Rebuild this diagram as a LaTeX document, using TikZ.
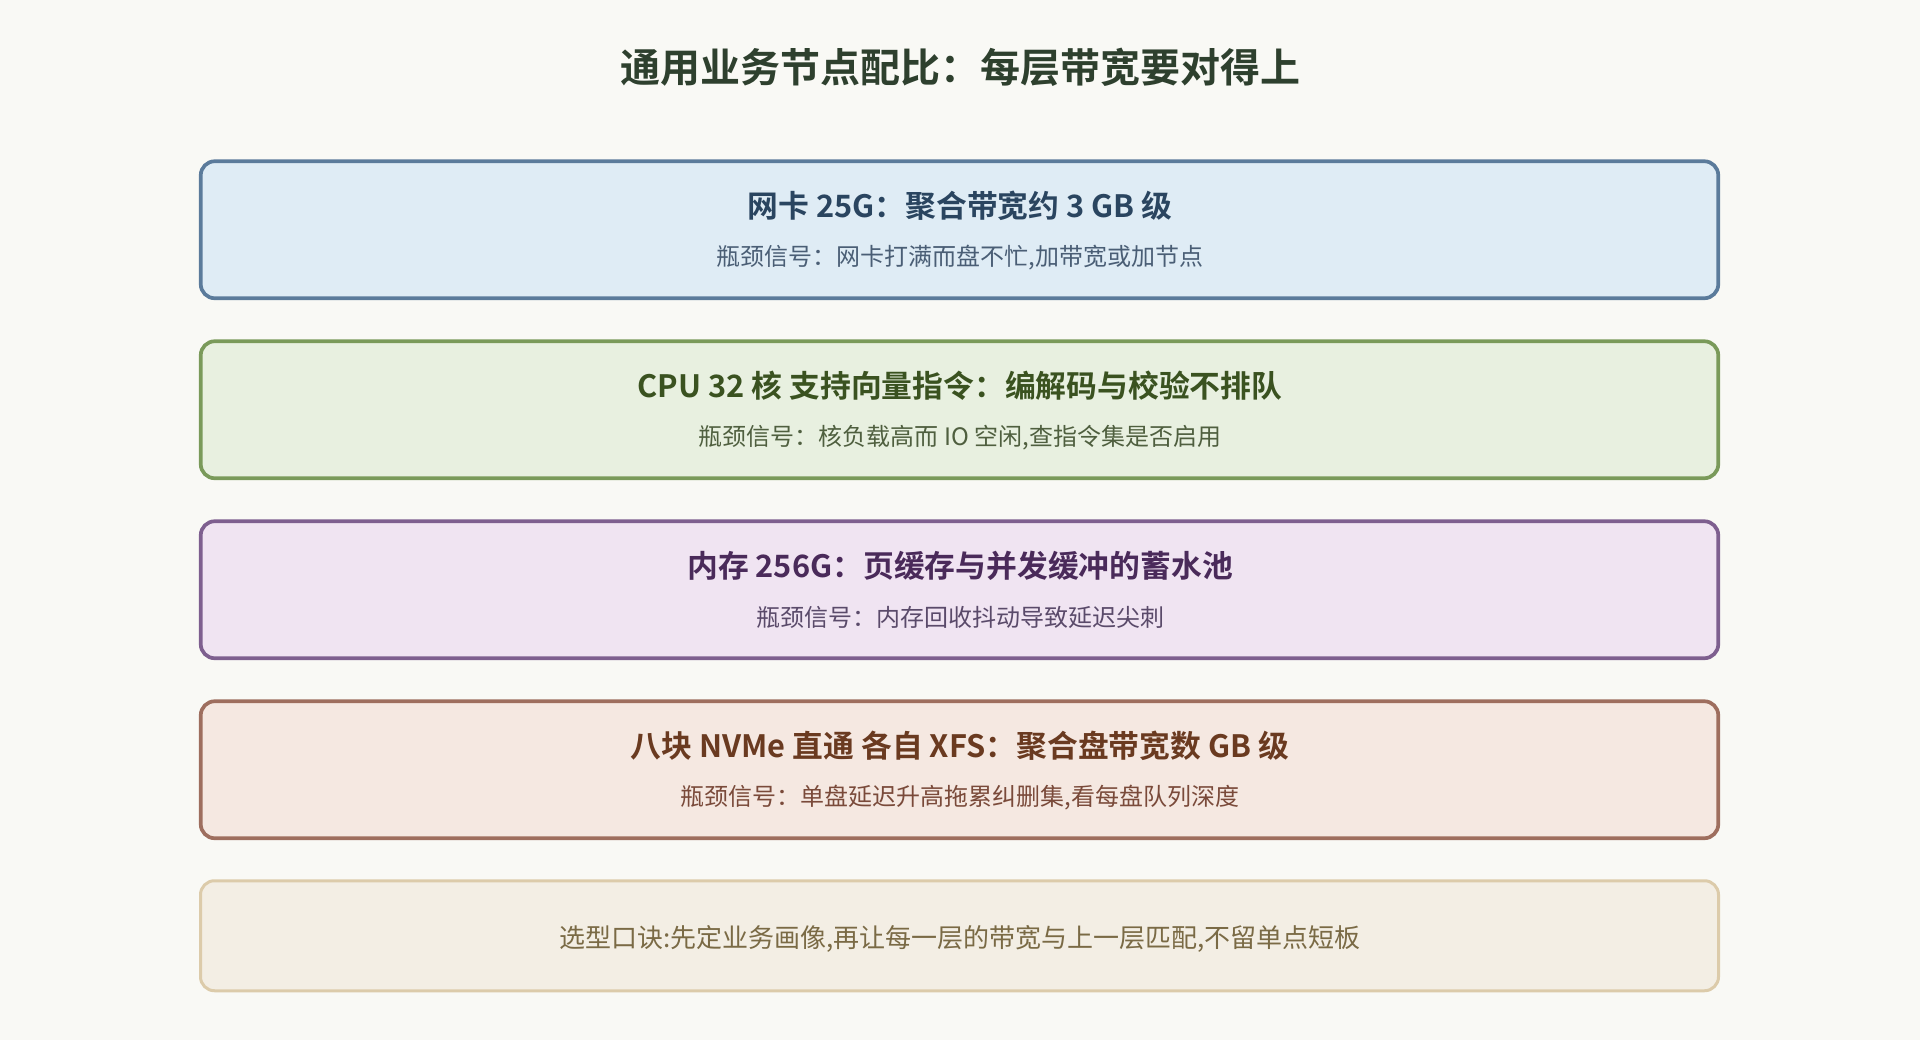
\documentclass[tikz,border=0pt]{standalone}
\usepackage{fontspec}
\setmainfont{Noto Sans CJK SC}[BoldFont={Noto Sans CJK SC Bold}]
\definecolor{bgc}{HTML}{F9F9F5}
\definecolor{titlec}{HTML}{2E402E}
\definecolor{fillA}{HTML}{DFECF5}\definecolor{drawA}{HTML}{5B7B9B}\definecolor{headA}{HTML}{2A4560}\definecolor{subA}{HTML}{4A5E75}
\definecolor{fillB}{HTML}{E8F0E0}\definecolor{drawB}{HTML}{7A9A5A}\definecolor{headB}{HTML}{3A5220}\definecolor{subB}{HTML}{4F5F3F}
\definecolor{fillC}{HTML}{F0E4F2}\definecolor{drawC}{HTML}{7E5F8F}\definecolor{headC}{HTML}{4A2A5A}\definecolor{subC}{HTML}{5A4A6A}
\definecolor{fillD}{HTML}{F5E8E1}\definecolor{drawD}{HTML}{9E6E5E}\definecolor{headD}{HTML}{6A3A20}\definecolor{subD}{HTML}{7A4A3A}
\definecolor{fillE}{HTML}{F3EEE4}\definecolor{drawE}{HTML}{DCCBAA}\definecolor{textE}{HTML}{7A6A45}
\tikzset{
  layerbox/.style={rectangle, rounded corners=14pt, line width=3.7pt, minimum width=1517.5pt, minimum height=137pt, inner sep=0pt},
  notebox/.style={rectangle, rounded corners=14pt, line width=3pt, minimum width=1518pt, minimum height=110pt, inner sep=0pt},
  headtxt/.style={inner sep=0pt, font=\bfseries\fontsize{30.8}{37}\selectfont},
  subtxt/.style={inner sep=0pt, font=\fontsize{24}{29}\selectfont},
  titletxt/.style={inner sep=0pt, text=titlec, font=\bfseries\fontsize{40}{48}\selectfont},
  notetxt/.style={inner sep=0pt, text=textE, font=\fontsize{26}{31}\selectfont}
}
\begin{document}
\begin{tikzpicture}[x=1pt,y=-1pt]
\path[fill=bgc] (0,0) rectangle (1920,1040);
\useasboundingbox (0,0) rectangle (1920,1040);
\node[titletxt] (title) at (960,67) {通用业务节点配比：每层带宽要对得上};
% layer 1
\node[layerbox, fill=fillA, draw=drawA] (b1) at (959.5,229.75) {};
\node[headtxt, text=headA] (h1) at (960,206) {网卡 25G：聚合带宽约 3 GB 级};
\node[subtxt, text=subA] (s1) at (960,257.5) {瓶颈信号：网卡打满而盘不忙,加带宽或加节点};
% layer 2
\node[layerbox, fill=fillB, draw=drawB] (b2) at (959.5,409.75) {};
\node[headtxt, text=headB] (h2) at (960,386) {CPU 32 核 支持向量指令：编解码与校验不排队};
\node[subtxt, text=subB] (s2) at (960,437.5) {瓶颈信号：核负载高而 IO 空闲,查指令集是否启用};
% layer 3
\node[layerbox, fill=fillC, draw=drawC] (b3) at (959.5,589.75) {};
\node[headtxt, text=headC] (h3) at (960,566) {内存 256G：页缓存与并发缓冲的蓄水池};
\node[subtxt, text=subC] (s3) at (960,617.5) {瓶颈信号：内存回收抖动导致延迟尖刺};
% layer 4
\node[layerbox, fill=fillD, draw=drawD] (b4) at (959.5,769.75) {};
\node[headtxt, text=headD] (h4) at (960,746) {八块 NVMe 直通 各自 XFS：聚合盘带宽数 GB 级};
\node[subtxt, text=subD] (s4) at (960,797.5) {瓶颈信号：单盘延迟升高拖累纠删集,看每盘队列深度};
% note
\node[notebox, fill=fillE, draw=drawE] (b5) at (959.5,935.75) {};
\node[notetxt] (n5) at (960,939) {选型口诀:先定业务画像,再让每一层的带宽与上一层匹配,不留单点短板};
\end{tikzpicture}
\end{document}
